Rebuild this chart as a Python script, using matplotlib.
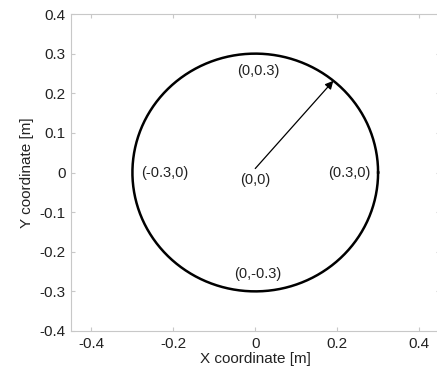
import numpy as np
import matplotlib
matplotlib.use('Agg')
import matplotlib.pyplot as plt

plt.rcParams['font.family'] = ['Liberation Sans', 'DejaVu Sans']

radius = 0.3
arrow_angle_deg = 50.5
label_texts = ['(0,0.3)', '(-0.3,0)', '(0,0)', '(0.3,0)', '(0,-0.3)']
label_x = [0.007, -0.22, 0.0, 0.23, 0.005]
label_y = [0.255, 0.0, -0.02, 0.0, -0.255]
xticks = [-0.4, -0.2, 0, 0.2, 0.4]
yticks = [-0.4, -0.3, -0.2, -0.1, 0, 0.1, 0.2, 0.3, 0.4]

fig = plt.figure(figsize=(4.37, 3.71), dpi=100)
ax = fig.add_axes([71/437, 1 - 331/371, 368.5/437, 317/371])

theta = np.linspace(0, 2*np.pi, 400)
ax.plot(radius*np.cos(theta), radius*np.sin(theta), color='black', lw=1.8)

a = np.deg2rad(arrow_angle_deg)
ax.annotate('', xy=(radius*np.cos(a), radius*np.sin(a)), xytext=(0, 0.01),
            arrowprops=dict(arrowstyle='-|>', color='black', lw=0.9,
                            mutation_scale=12, shrinkA=0, shrinkB=0))

for t, x, y in zip(label_texts, label_x, label_y):
    ax.text(x, y, t, ha='center', va='center', fontsize=10.5, color='#222222')

ax.set_xlim(-0.45, 0.45)
ax.set_ylim(-0.4, 0.4)
ax.set_xticks(xticks)
ax.set_yticks(yticks)
ax.set_xticklabels(['-0.4', '-0.2', '0', '0.2', '0.4'])
ax.set_yticklabels(['-0.4', '-0.3', '-0.2', '-0.1', '0', '0.1', '0.2', '0.3', '0.4'])
ax.tick_params(direction='in', length=3, color='#c8c8c8', labelsize=11,
               labelcolor='#222222', top=True, right=True, pad=4)
for s in ax.spines.values():
    s.set_color('#c8c8c8')
    s.set_linewidth(0.8)

ax.set_xlabel('X coordinate [m]', fontsize=11, color='#222222', labelpad=1)
ax.set_ylabel('Y coordinate [m]', fontsize=11, color='#222222', labelpad=4)

fig.savefig('out.png', dpi=100)
